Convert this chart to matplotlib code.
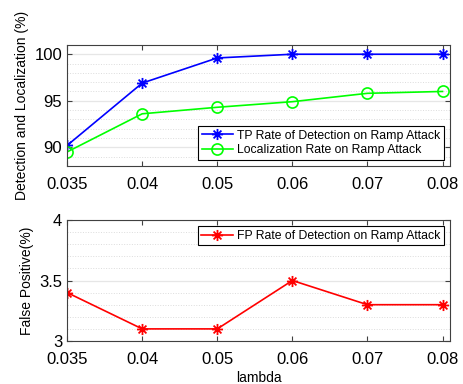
import matplotlib
matplotlib.use('Agg')
import matplotlib.pyplot as plt
from matplotlib.path import Path
from matplotlib.ticker import MultipleLocator

plt.rcParams['font.family'] = ['Liberation Sans', 'DejaVu Sans']

# lambda values (plotted as evenly spaced categories)
lambdas = ['0.035', '0.04', '0.05', '0.06', '0.07', '0.08']
tp_rate = [90.2, 96.9, 99.6, 100.0, 100.0, 100.0]
loc_rate = [89.5, 93.6, 94.3, 94.9, 95.8, 96.0]
fp_rate = [3.4, 3.1, 3.1, 3.5, 3.3, 3.3]

x = list(range(len(lambdas)))

# asterisk marker: a plus and a cross on top of each other
d = 0.7071
star_path = Path(
    [(-1, 0), (1, 0), (0, -1), (0, 1), (-d, -d), (d, d), (-d, d), (d, -d)],
    [Path.MOVETO, Path.LINETO] * 4,
)

fig = plt.figure(figsize=(4.63, 3.84), dpi=100)
ax1 = fig.add_axes([0.145, 0.568, 0.827, 0.315])
ax2 = fig.add_axes([0.145, 0.112, 0.827, 0.315])


def style_axes(ax, minor_step):
    ax.set_xticks(x)
    ax.set_xticklabels(lambdas)
    ax.set_xlim(0, 5.1)
    ax.yaxis.set_minor_locator(MultipleLocator(minor_step))
    ax.grid(True, which='major', axis='y', color='#e6e6e6', linewidth=0.9)
    ax.grid(True, which='minor', axis='y', color='#dcdcdc', linestyle=':', linewidth=0.7)
    ax.set_axisbelow(True)
    ax.tick_params(which='both', direction='in', top=True, right=True,
                   labelsize=12, color='#404040', length=3.5)
    ax.tick_params(which='minor', length=0)
    ax.tick_params(axis='x', pad=8)
    for s in ax.spines.values():
        s.set_color('#404040')
        s.set_linewidth(0.8)


ax1.plot(x, tp_rate, color='#0000ff', marker=star_path, markersize=8, markerfacecolor='none',
         markeredgewidth=1.3, linewidth=1.2, label='TP Rate of Detection on Ramp Attack')
ax1.plot(x, loc_rate, color='#00ff00', marker='o', markersize=8, markerfacecolor='none',
         markeredgewidth=1.2, linewidth=1.2, label='Localization Rate on Ramp Attack')
ax1.set_ylim(88, 101)
ax1.set_yticks([90, 95, 100])
style_axes(ax1, 1)
ax1.set_ylabel('Detection and Localization (%)', fontsize=10)
ax1.yaxis.set_label_coords(-0.1, 0.5)
leg1 = ax1.legend(loc='lower right', fontsize=8.8, fancybox=False, framealpha=1,
                  edgecolor='black', borderpad=0.3, labelspacing=0.2, handlelength=2.6,
                  handletextpad=0.3, borderaxespad=0.5)
leg1.get_frame().set_linewidth(0.8)

ax2.plot(x, fp_rate, color='#ff0000', marker=star_path, markersize=8, markerfacecolor='none',
         markeredgewidth=1.3, linewidth=1.2, label='FP Rate of Detection on Ramp Attack')
ax2.set_ylim(3, 4)
ax2.set_yticks([3, 3.5, 4])
ax2.set_yticklabels(['3', '3.5', '4'])
style_axes(ax2, 0.1)
ax2.set_ylabel('False Positive(%)', fontsize=10)
ax2.set_xlabel('lambda', fontsize=10, labelpad=3)
leg2 = ax2.legend(loc='upper right', fontsize=8.8, fancybox=False, framealpha=1,
                  edgecolor='black', borderpad=0.3, handlelength=2.6,
                  handletextpad=0.3, borderaxespad=0.5)
leg2.get_frame().set_linewidth(0.8)

fig.savefig('out.png', dpi=100)
